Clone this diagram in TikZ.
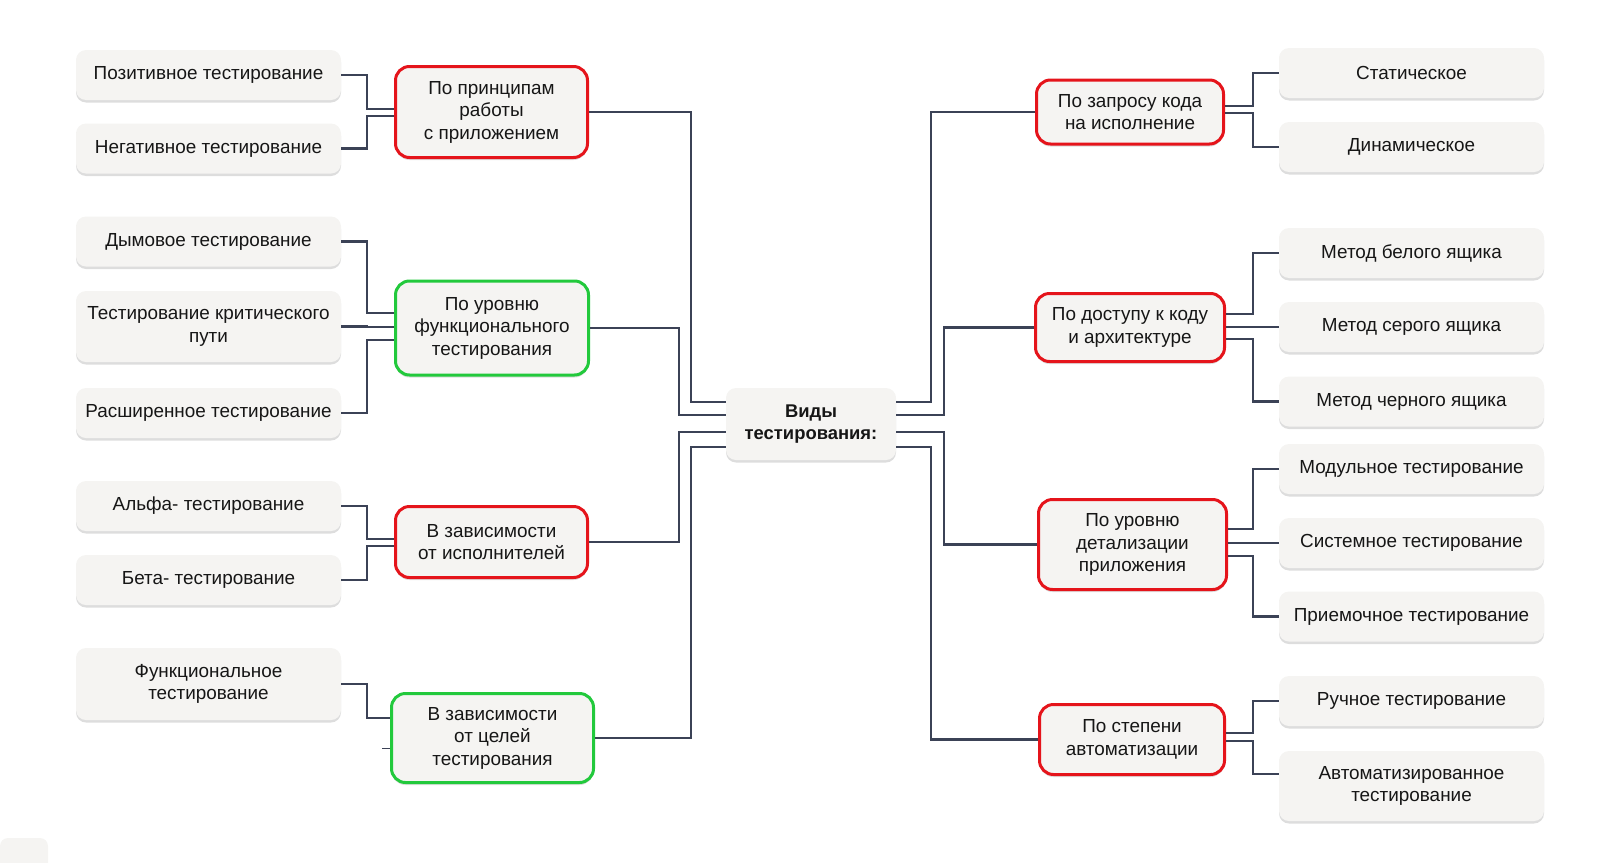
\documentclass[tikz,border=0pt]{standalone}
\usepackage{fontspec}
\setmainfont{Liberation Sans}
\usetikzlibrary{shadows}

\definecolor{boxfill}{HTML}{F5F4F2}
\definecolor{linkgray}{HTML}{3B4256}
\definecolor{catred}{HTML}{E5141B}
\definecolor{catgreen}{HTML}{22C93C}
\definecolor{textblack}{HTML}{161616}

\tikzset{
  boxshadow/.style={drop shadow={shadow xshift=0pt, shadow yshift=-2.5pt, opacity=0.22, fill=black!60}},
  leaf/.style={fill=boxfill, rounded corners=10pt, minimum width=265pt, minimum height=50pt, boxshadow},
  catbox/.style={fill=boxfill, line width=3pt, rounded corners=14pt, boxshadow},
  catr/.style={catbox, draw=catred},
  catg/.style={catbox, draw=catgreen},
  link/.style={draw=linkgray, line width=2.2pt}
}

\begin{document}
\begin{tikzpicture}[x=1pt, y=-1pt, every node/.style={font=\fontsize{18.9}{22.5}\selectfont, text=textblack, align=center}]
    \useasboundingbox (0,0) rectangle (1600,862);
    \fill[boxfill, rounded corners=8pt] (0,838) rectangle (48,880);

    % centre
    \node[fill=boxfill, rounded corners=10pt, minimum width=170pt, minimum height=72pt, boxshadow, font=\fontsize{18.4}{22.5}\selectfont\bfseries] (root) at (811,424) {Виды\\тестирования:};

    % left groups
    \node[catr, minimum width=192pt, minimum height=91pt] (a1) at (491.5,112) {По принципам\\работы\\с приложением};
    \node[catg, minimum width=193pt, minimum height=94pt] (a2) at (492,328) {По уровню\\функционального\\тестирования};
    \node[catr, minimum width=192pt, minimum height=71pt] (a3) at (491.5,542) {В зависимости\\от исполнителей};
    \node[catg, minimum width=202pt, minimum height=89pt] (a4) at (492.5,738) {В зависимости\\от целей\\тестирования};

    % right groups
    \node[catr, minimum width=187pt, minimum height=64pt] (b1) at (1130,112) {По запросу кода\\на исполнение};
    \node[catr, minimum width=189pt, minimum height=68pt] (b2) at (1130,327.5) {По доступу к коду\\и архитектуре};
    \node[catr, minimum width=188pt, minimum height=90pt] (b3) at (1132.5,544.5) {По уровню\\детализации\\приложения};
    \node[catr, minimum width=185pt, minimum height=70pt] (b4) at (1132,739.5) {По степени\\автоматизации};

    % left leaves
    \node[leaf] (l1) at (208.5,75) {Позитивное тестирование};
    \node[leaf] (l2) at (208.5,148.5) {Негативное тестирование};
    \node[leaf] (l3) at (208.5,241.5) {Дымовое тестирование};
    \node[leaf, minimum height=71pt] (l4) at (208.5,326.5) {Тестирование критического\\пути};
    \node[leaf] (l5) at (208.5,413) {Расширенное тестирование};
    \node[leaf] (l6) at (208.5,506) {Альфа- тестирование};
    \node[leaf] (l7) at (208.5,580) {Бета- тестирование};
    \node[leaf, minimum height=72pt] (l8) at (208.5,684) {Функциональное\\тестирование};

    % right leaves
    \node[leaf] (r1) at (1411.5,73) {Статическое};
    \node[leaf] (r2) at (1411.5,147) {Динамическое};
    \node[leaf] (r3) at (1411.5,253) {Метод белого ящика};
    \node[leaf] (r4) at (1411.5,327) {Метод серого ящика};
    \node[leaf] (r5) at (1411.5,401.5) {Метод черного ящика};
    \node[leaf] (r6) at (1411.5,469) {Модульное тестирование};
    \node[leaf] (r7) at (1411.5,543) {Системное тестирование};
    \node[leaf] (r8) at (1411.5,616.5) {Приемочное тестирование};
    \node[leaf] (r9) at (1411.5,701) {Ручное тестирование};
    \node[leaf, minimum height=70pt] (r10) at (1411.5,786) {Автоматизированное\\тестирование};

    % groups to centre
    \draw[link] (a1.east) -| (691,402) -- (root.west |- 691,402);
    \draw[link] (a2.east) -| (679,415) -- (root.west |- 679,415);
    \draw[link] (a3.east) -| (679,432) -- (root.west |- 679,432);
    \draw[link] (a4.east) -| (691,447) -- (root.west |- 691,447);
    \draw[link] (b1.west) -| (931,402) -- (root.east |- 931,402);
    \draw[link] (b2.west) -| (944,415) -- (root.east |- 944,415);
    \draw[link] (b3.west) -| (944,432) -- (root.east |- 944,432);
    \draw[link] (b4.west) -| (931,447) -- (root.east |- 931,447);

    % leaves to groups
    \foreach \leaf/\grp/\ty in {l1/a1/109, l2/a1/116, l3/a2/313, l4/a2/327, l5/a2/340, l6/a3/539, l7/a3/546, l8/a4/718}
        \draw[link] (\leaf.east) -| (367,\ty) -- (\grp.west |- 367,\ty);
    \foreach \leaf/\grp/\ty in {r1/b1/106, r2/b1/113, r3/b2/314, r4/b2/327, r5/b2/339, r6/b3/529, r7/b3/543, r8/b3/556, r9/b4/733}
        \draw[link] (\leaf.west) -| (1253,\ty) -- (\grp.east |- 1253,\ty);
    \draw[link] ([yshift=12pt]r10.west) -| (1253,741) -- (b4.east |- 1253,741);
    \draw[link, line width=1pt] (a4.west |- 0,748) -- ++(-8,0);
\end{tikzpicture}
\end{document}
